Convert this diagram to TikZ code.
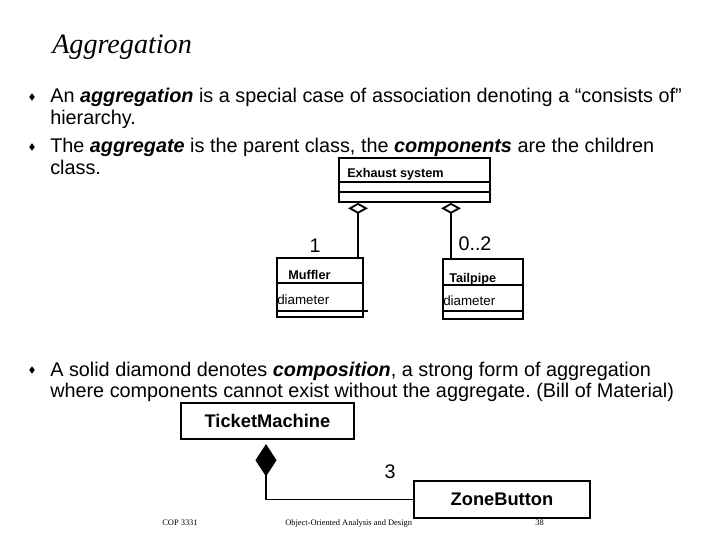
\documentclass[tikz,border=0pt]{standalone}
\usepackage{fontspec}
\setmainfont{Liberation Sans}
\newfontfamily\slideserif{Liberation Serif}
\usetikzlibrary{shapes.geometric,arrows.meta}
\frenchspacing

\begin{document}
\begin{tikzpicture}[x=0.025cm, y=-0.025cm,
  classBox/.style ={draw, line width=1.3pt, inner sep=0pt, anchor=north west},
  boxRule/.style  ={line width=1.3pt},
  bodyText/.style ={font=\fontsize{14.1}{16}\selectfont, anchor=base west, inner sep=0pt},
  attrText/.style ={font=\fontsize{9.5}{11}\selectfont, anchor=base west, inner sep=0pt},
  nameText/.style ={font=\fontsize{9}{11}\selectfont\bfseries, anchor=base west, inner sep=0pt},
  multText/.style ={font=\fontsize{14}{16}\selectfont, inner sep=0pt},
  footText/.style ={font=\slideserif\fontsize{6}{8}\selectfont, anchor=base west, inner sep=0pt},
  bulletMark/.style={diamond, fill=black, inner sep=0pt, minimum width=4pt, minimum height=5.5pt},
  aggLine/.style  ={line width=1.3pt, {Diamond[open, length=7.8pt, width=14pt]}-},
  compLine/.style ={line width=0.9pt, shorten <=3pt, {Diamond[length=23pt, width=15pt]}-},
]
\fill[white] (0,0) rectangle (720,540);
\useasboundingbox (0,0) rectangle (720,540);

% title
\node[font=\slideserif\itshape\fontsize{20}{24}\selectfont, anchor=base west, inner sep=0pt]
  (title) at (52,53) {Aggregation};

% bullets
\foreach \y/\nm in {97/b1, 147/b2, 370/b3} {
  \node[bulletMark] (\nm) at (32,\y) {};
}
\node[bodyText] (t1a) at (50,102) {An \textbf{\textit{aggregation}} is a special case of association denoting a “consists of”};
\node[bodyText] (t1b) at (50,124) {hierarchy.};
\node[bodyText] (t2a) at (50,152) {The \textbf{\textit{aggregate}} is the parent class, the \textbf{\textit{components}} are the children};
\node[bodyText] (t2b) at (50,174) {class.};
\node[bodyText] (t3a) at (50,376) {A solid diamond denotes \textbf{\textit{composition}}, a strong form of aggregation};
\node[bodyText] (t3b) at (50,397) {where components cannot exist without the aggregate. (Bill of Material)};

% aggregation example
\node[classBox, minimum width=3.775cm, minimum height=1.1cm] (exh) at (338,157) {};
\node[nameText] (exhName) at (347,177) {Exhaust system};
\draw[boxRule] ([yshift=-0.625cm]exh.north west) -- ([yshift=-0.625cm]exh.north east);
\draw[boxRule] ([yshift=-0.875cm]exh.north west) -- ([yshift=-0.875cm]exh.north east);

\node[classBox, minimum width=2.15cm, minimum height=1.475cm] (muf) at (276,257) {};
\node[nameText] (mufName) at (288,279) {Muffler};
\node[attrText] (mufAttr) at (277,304) {diameter};
\draw[boxRule] ([yshift=-0.65cm]muf.north west) -- ([yshift=-0.65cm]muf.north east);
\draw[boxRule] ([yshift=-1.35cm]muf.north west) -- ([yshift=-1.35cm,xshift=0.1cm]muf.north east);

\node[classBox, minimum width=2.0cm, minimum height=1.5cm] (tail) at (442,258) {};
\node[nameText] (tailName) at (449,282) {Tailpipe};
\node[attrText] (tailAttr) at (443,305) {diameter};
\draw[boxRule] ([yshift=-0.675cm]tail.north west) -- ([yshift=-0.675cm]tail.north east);
\draw[boxRule] ([yshift=-1.325cm]tail.north west) -- ([yshift=-1.325cm]tail.north east);

\coordinate (mufX) at (358,0);
\coordinate (tailX) at (451,0);
\draw[aggLine] (exh.south -| mufX) -- (muf.north -| mufX);
\draw[aggLine] (exh.south -| tailX) -- (tail.north -| tailX);
\node[multText] (mufMult) at (315,246) {1};
\node[multText] (tailMult) at (475,244) {0..2};

% composition example
\node[classBox, minimum width=4.325cm, minimum height=0.9cm,
  font=\fontsize{13}{15}\selectfont\bfseries] (tm) at (180,402) {TicketMachine};
\node[classBox, minimum width=4.4cm, minimum height=0.925cm,
  font=\fontsize{13}{15}\selectfont\bfseries] (zb) at (413,480) {ZoneButton};
\coordinate (tmX) at (266,0);
\draw[compLine] (tm.south -| tmX) |- (zb.west);
\node[multText] (zbMult) at (390,472) {3};

% footer
\node[footText] (fLeft) at (162,525) {COP 3331};
\node[footText] (fMid) at (285,525) {Object-Oriented Analysis and Design};
\node[footText] (fRight) at (535,525) {38};
\end{tikzpicture}
\end{document}
